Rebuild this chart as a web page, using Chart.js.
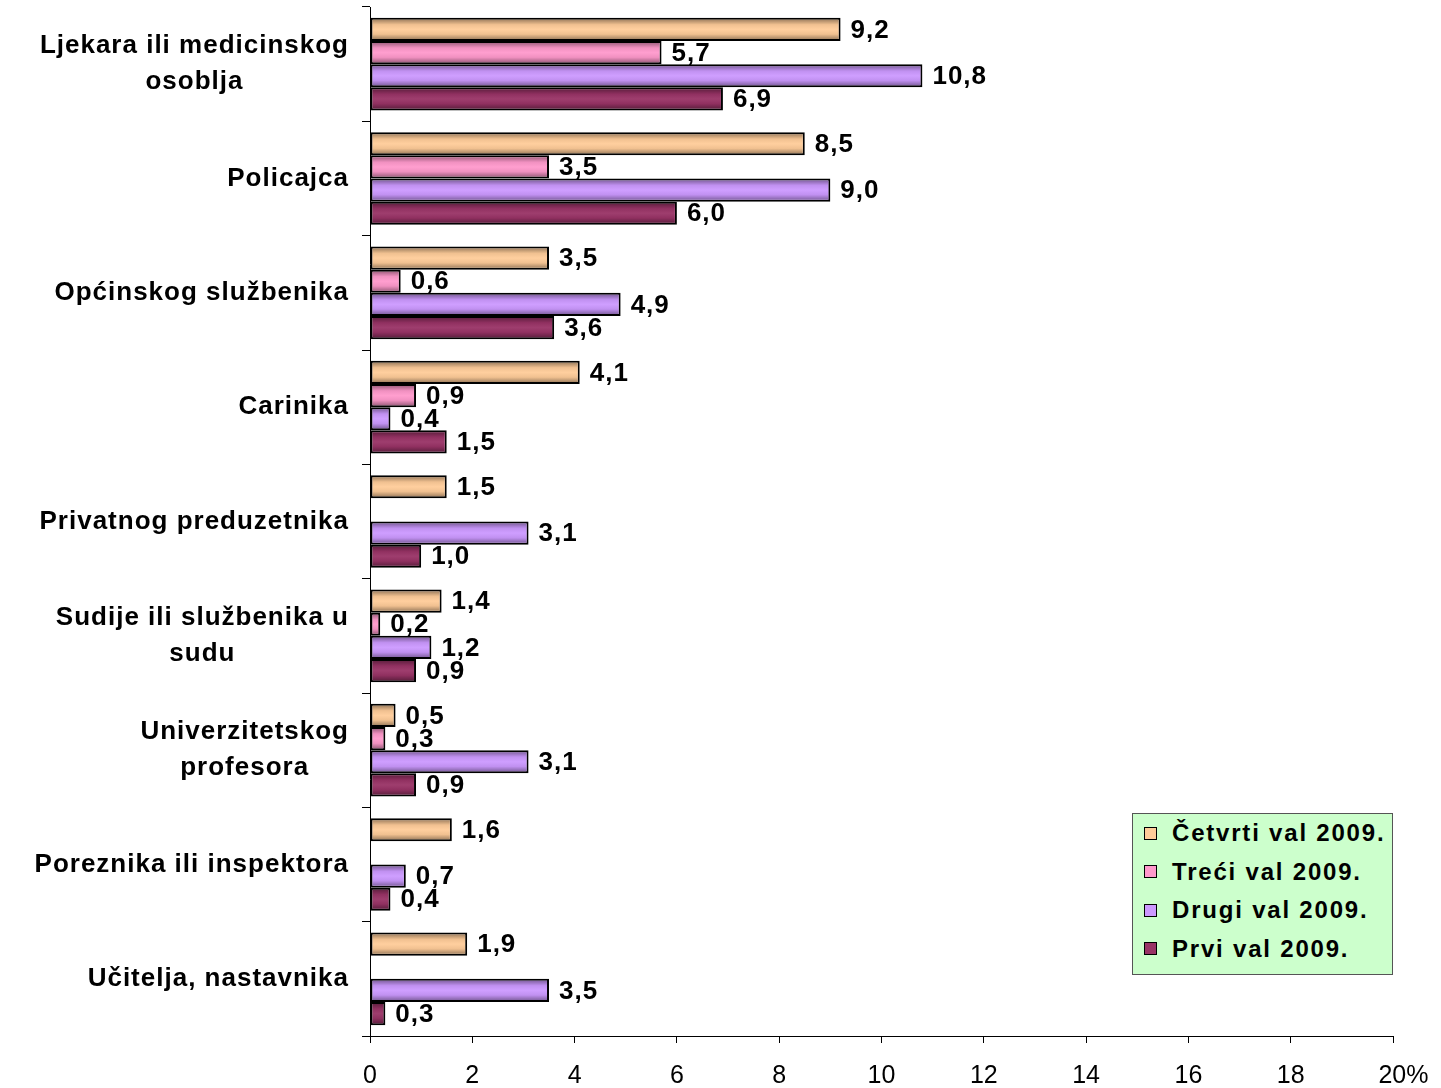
<!DOCTYPE html>
<html><head><meta charset="utf-8">
<script src="https://cdn.jsdelivr.net/npm/chart.js@4.4.1/dist/chart.umd.min.js"></script>
<style>
html,body{margin:0;padding:0;background:#fff;}
#wrap{position:relative;width:1441px;height:1088px;}
#legend{position:absolute;left:1132px;top:813px;width:259px;height:160px;background:#CCFFCC;border:1px solid #555;font:bold 24px "Liberation Sans",Arial,sans-serif;letter-spacing:1.8px;color:#000;}
.item{position:absolute;left:0;height:38px;display:flex;align-items:center;white-space:nowrap;}
.box{width:11px;height:11px;border:1px solid #000;margin-left:11px;margin-right:15px;flex:none;}
</style></head>
<body><div id="wrap"><canvas id="c" width="1441" height="1088"></canvas><div id="legend"></div></div>
<script>
const categories = [
  ["Ljekara ili medicinskog", "osoblja"],
  "Policajca",
  "Općinskog službenika",
  "Carinika",
  "Privatnog preduzetnika",
  ["Sudije ili službenika u", "sudu"],
  ["Univerzitetskog", "profesora"],
  "Poreznika ili inspektora",
  "Učitelja, nastavnika"
];
const seriesNames = ["Četvrti val 2009.", "Treći val 2009.", "Drugi val 2009.", "Prvi val 2009."];
const cetvrtiVal = [9.2, 8.5, 3.5, 4.1, 1.5, 1.4, 0.5, 1.6, 1.9];
const treciVal   = [5.7, 3.5, 0.6, 0.9, null, 0.2, 0.3, null, null];
const drugiVal   = [10.8, 9.0, 4.9, 0.4, 3.1, 1.2, 3.1, 0.7, 3.5];
const prviVal    = [6.9, 6.0, 3.6, 1.5, 1.0, 0.9, 0.9, 0.4, 0.3];
const xTicks = [0, 2, 4, 6, 8, 10, 12, 14, 16, 18, 20];
const seriesColors = ["#FFCC99", "#FF99CC", "#CC99FF", "#993366"];

const FONT = '"Liberation Sans", Arial, sans-serif';
Chart.defaults.font.family = FONT;
Chart.defaults.color = '#000';

const shading = {
  id: 'shading',
  afterDatasetsDraw(chart) {
    const ctx = chart.ctx;
    chart.data.datasets.forEach((ds, di) => {
      const meta = chart.getDatasetMeta(di);
      meta.data.forEach((el, i) => {
        if (ds.data[i] == null) return;
        const p = el.getProps(['x', 'y', 'base', 'height'], true);
        const bw = 2;
        const left = Math.min(p.base, p.x) + bw, right = Math.max(p.base, p.x) - bw;
        const top = p.y - p.height / 2 + bw, bottom = p.y + p.height / 2 - bw;
        if (right <= left) return;
        const g = ctx.createLinearGradient(0, top, 0, bottom);
        g.addColorStop(0, 'rgba(0,0,0,0.35)');
        g.addColorStop(0.25, 'rgba(0,0,0,0.06)');
        g.addColorStop(0.5, 'rgba(255,255,255,0.05)');
        g.addColorStop(0.75, 'rgba(0,0,0,0.06)');
        g.addColorStop(1, 'rgba(0,0,0,0.35)');
        ctx.save();
        ctx.fillStyle = g;
        ctx.fillRect(left, top, right - left, bottom - top);
        ctx.restore();
      });
    });
  }
};

const valueLabels = {
  id: 'valueLabels',
  afterDatasetsDraw(chart) {
    const ctx = chart.ctx;
    ctx.save();
    ctx.font = 'bold 26px ' + FONT;
    try { ctx.letterSpacing = '1px'; } catch (e) {}
    ctx.fillStyle = '#000';
    ctx.textBaseline = 'middle';
    ctx.textAlign = 'left';
    chart.data.datasets.forEach((ds, di) => {
      const meta = chart.getDatasetMeta(di);
      meta.data.forEach((el, i) => {
        const v = ds.data[i];
        if (v == null) return;
        ctx.fillText(v.toFixed(1).replace('.', ','), el.x + 10, el.y + 1);
      });
    });
    ctx.restore();
  }
};

const catLabels = {
  id: 'catLabels',
  afterDraw(chart) {
    const ctx = chart.ctx;
    const ys = chart.scales.y;
    ctx.save();
    ctx.font = 'bold 26px ' + FONT;
    try { ctx.letterSpacing = '1px'; } catch (e) {}
    ctx.fillStyle = '#000';
    ctx.textBaseline = 'middle';
    ctx.textAlign = 'center';
    const rightEdge = ys.right - 21;
    const lh = 36;
    categories.forEach((lab, i) => {
      const lines = Array.isArray(lab) ? lab : [lab];
      const w = Math.max(...lines.map(l => ctx.measureText(l).width));
      const cx = rightEdge - w / 2;
      const cy = ys.getPixelForValue(i);
      lines.forEach((l, j) => {
        ctx.fillText(l, cx, cy + (j - (lines.length - 1) / 2) * lh);
      });
    });
    ctx.restore();
  }
};

const seriesData = [cetvrtiVal, treciVal, drugiVal, prviVal];
const chart = new Chart(document.getElementById('c'), {
  type: 'bar',
  data: {
    labels: categories,
    datasets: seriesNames.map((n, k) => ({
      label: n,
      data: seriesData[k],
      backgroundColor: seriesColors[k],
      borderColor: '#000',
      borderWidth: 2,
      borderSkipped: false,
      categoryPercentage: 0.81,
      barPercentage: 1.0
    }))
  },
  options: {
    indexAxis: 'y',
    responsive: false,
    animation: false,
    layout: { padding: { top: 7, right: 48, left: 0, bottom: 0 } },
    plugins: { legend: { display: false }, tooltip: { enabled: false } },
    scales: {
      x: {
        min: 0, max: 20,
        afterBuildTicks: s => { s.ticks = xTicks.map(v => ({ value: v })); },
        afterFit: s => { s.height = 52; s.paddingRight = 0; s.paddingLeft = 0; },
        ticks: {
          font: { size: 25 }, color: '#000', padding: 18, maxRotation: 0, autoSkip: false,
          callback: v => v === 20 ? '   20%' : String(v)
        },
        grid: { drawOnChartArea: false, tickLength: 7, color: '#000' },
        border: { color: '#000', width: 1 }
      },
      y: {
        afterFit: s => { s.width = 370; s.paddingTop = 0; s.paddingBottom = 0; },
        ticks: { display: false },
        grid: { offset: true, drawOnChartArea: false, tickLength: 8, color: '#000' },
        border: { color: '#000', width: 1 }
      }
    }
  },
  plugins: [shading, valueLabels, catLabels]
});

const leg = document.getElementById('legend');
chart.data.datasets.forEach((ds, k) => {
  const it = document.createElement('div');
  it.className = 'item';
  it.style.top = (k * 38.5) + 'px';
  const b = document.createElement('span');
  b.className = 'box';
  b.style.background = ds.backgroundColor;
  const t = document.createElement('span');
  t.textContent = ds.label;
  it.appendChild(b); it.appendChild(t);
  leg.appendChild(it);
});
</script>
</body></html>
